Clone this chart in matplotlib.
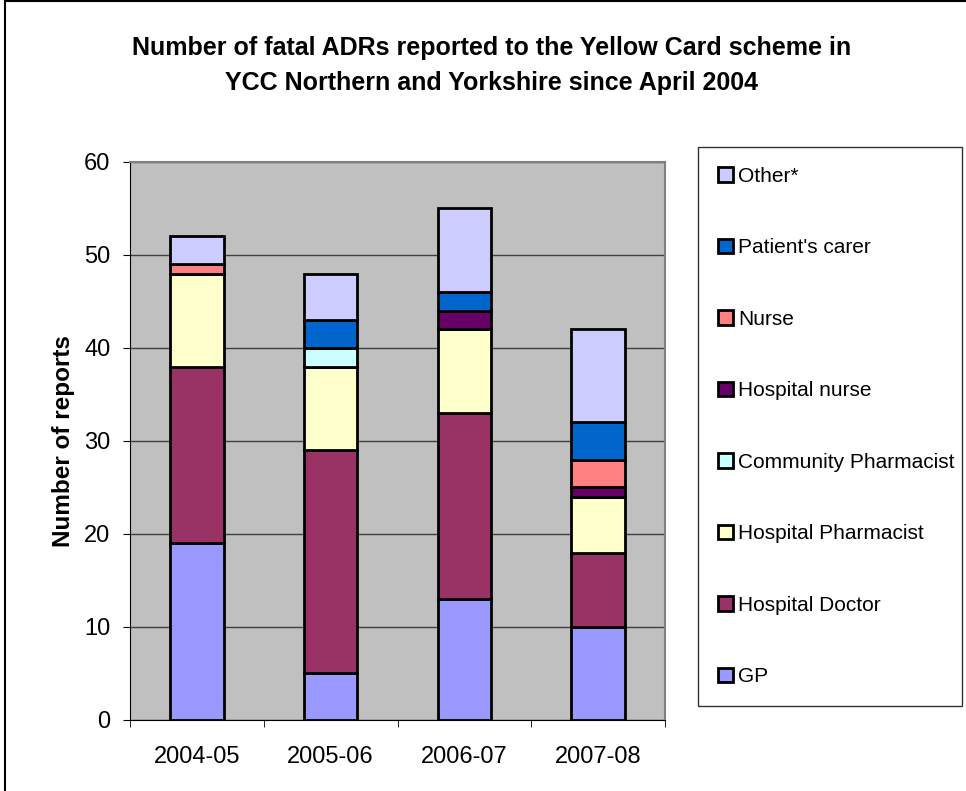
import matplotlib
matplotlib.use("Agg")
import matplotlib.pyplot as plt
from matplotlib.patches import Patch
from matplotlib.lines import Line2D
import numpy as np

plt.rcParams['font.family'] = ['Liberation Sans', 'DejaVu Sans']

years = ["2004-05", "2005-06", "2006-07", "2007-08"]
series = ["GP", "Hospital Doctor", "Hospital Pharmacist", "Community Pharmacist",
          "Hospital nurse", "Nurse", "Patient's carer", "Other*"]
gp = [19, 5, 13, 10]
hosp_doctor = [19, 24, 20, 8]
hosp_pharm = [10, 9, 9, 6]
comm_pharm = [0, 2, 0, 0]
hosp_nurse = [0, 0, 2, 1]
nurse = [1, 0, 0, 3]
carer = [0, 3, 2, 4]
other = [3, 5, 9, 10]
colors = ["#9999FF", "#993366", "#FFFFCC", "#CCFFFF",
          "#660066", "#FF8080", "#0066CC", "#CCCCFF"]

data = [gp, hosp_doctor, hosp_pharm, comm_pharm, hosp_nurse, nurse, carer, other]

fig = plt.figure(figsize=(9.66, 7.91), dpi=100)
ax = fig.add_axes([0.1346, 0.0898, 0.5538, 0.7054])
ax.set_facecolor("#C0C0C0")

x = np.arange(len(years))
bottom = np.zeros(len(years))
for vals, col, name in zip(data, colors, series):
    v = np.array(vals, dtype=float)
    ax.bar(x, v, 0.40, bottom=bottom, color=col, edgecolor="black",
           linewidth=2, label=name, zorder=3)
    bottom += v

ax.set_ylim(0, 60)
ax.set_xlim(-0.5, 3.5)
ax.set_yticks(range(0, 61, 10))
ax.yaxis.grid(True, color="#404040", linewidth=1, zorder=1)
ax.set_axisbelow(True)
ax.set_xticks(x)
ax.set_xticklabels(years)
ax.set_xticks(np.arange(-0.5, 4, 1), minor=True)
ax.tick_params(axis="x", which="major", length=0, labelsize=17, pad=19)
ax.tick_params(axis="x", which="minor", length=5, direction="out")
ax.tick_params(axis="y", labelsize=17, length=5, direction="out", pad=9)
for s in ["top", "right"]:
    ax.spines[s].set_color("#808080")
    ax.spines[s].set_linewidth(1.5)
ax.spines["left"].set_color("black")
ax.spines["bottom"].set_color("black")
ax.set_ylabel("Number of reports", fontsize=17.5, fontweight="bold")
ax.yaxis.set_label_coords(-0.103, 0.5)

fig.text(0.509, 0.917,
         "Number of fatal ADRs reported to the Yellow Card scheme in\n"
         "YCC Northern and Yorkshire since April 2004",
         ha="center", va="center", fontsize=18, fontweight="bold", linespacing=1.55)

handles = [Patch(facecolor=c, edgecolor="black", linewidth=2, label=n)
           for c, n in zip(colors, series)][::-1]
leg = fig.legend(handles=handles, loc="upper left",
                 bbox_to_anchor=(0.7226, 0.1037, 0.2733, 0.7105), mode="expand",
                 fontsize=15, handlelength=0.72, handleheight=0.72, handletextpad=0.25,
                 labelspacing=2.52, borderpad=0.95, fancybox=False, frameon=True,
                 edgecolor="black", borderaxespad=0)
leg.get_frame().set_linewidth(1)

# outer chart border (top and left only are visible)
fig.add_artist(Line2D([0.005, 1.0], [0.999, 0.999], transform=fig.transFigure,
                      color="black", linewidth=1.5))
fig.add_artist(Line2D([0.005, 0.005], [0.0, 0.999], transform=fig.transFigure,
                      color="black", linewidth=1.5))

fig.savefig("out.png", dpi=100)
